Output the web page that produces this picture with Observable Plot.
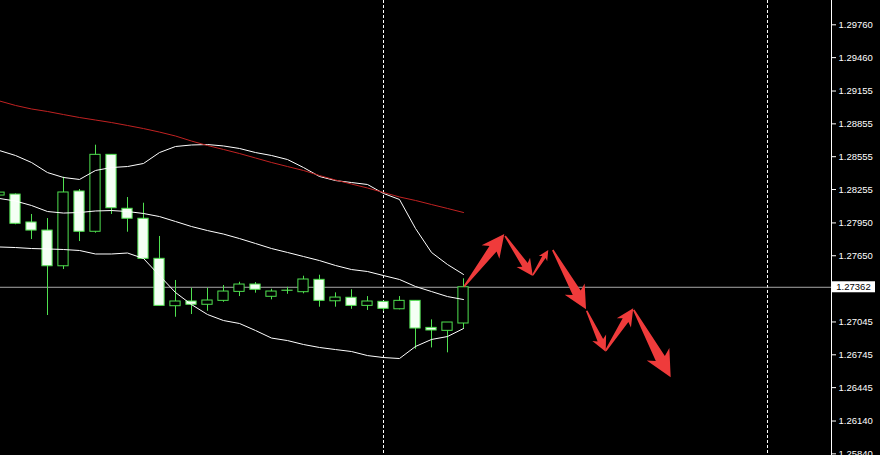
<!DOCTYPE html>
<html>
<head>
<meta charset="utf-8">
<script src="https://cdn.jsdelivr.net/npm/d3@7"></script>
<script src="https://cdn.jsdelivr.net/npm/@observablehq/plot@0.6"></script>
<style>
  html, body { margin: 0; padding: 0; background: #000; }
  #chart { width: 880px; height: 455px; overflow: hidden; }
</style>
</head>
<body>
<div id="chart"></div>
<script>
// ---- Data (bar index, prices) ----
const bars  = [0,1,2,3,4,5,6,7,8,9,10,11,12,13,14,15,16,17,18,19,20,21,22,23,24,25,26,27,28,29];
const open  = [1.28200,1.28209,1.27954,1.27880,1.27554,1.28237,1.27869,1.28572,1.28079,1.27988,1.27622,1.27189,1.27232,1.27202,1.27238,1.27320,1.27387,1.27275,1.27331,1.27317,1.27430,1.27234,1.27266,1.27192,1.27229,1.27161,1.27238,1.26991,1.26964,1.27031];
const high  = [1.28240,1.28215,1.28027,1.27990,1.28368,1.28255,1.28660,1.28572,1.28182,1.28130,1.27826,1.27424,1.27353,1.27353,1.27378,1.27408,1.27405,1.27344,1.27362,1.27463,1.27472,1.27311,1.27339,1.27277,1.27232,1.27277,1.27238,1.27064,1.27040,1.27439];
const low   = [1.28190,1.27933,1.27798,1.27104,1.27524,1.27780,1.27856,1.28027,1.27865,1.27622,1.27192,1.27088,1.27113,1.27143,1.27225,1.27277,1.27308,1.27247,1.27298,1.27302,1.27180,1.27180,1.27161,1.27150,1.27143,1.27156,1.26796,1.26808,1.26763,1.26985];
const close = [1.28227,1.27942,1.27880,1.27554,1.28228,1.27869,1.28572,1.28084,1.27988,1.27622,1.27192,1.27232,1.27202,1.27241,1.27323,1.27387,1.27339,1.27323,1.27330,1.27433,1.27238,1.27268,1.27192,1.27232,1.27165,1.27238,1.26985,1.26967,1.27040,1.27362];

const bbUpper  = [1.28611,1.28566,1.28502,1.28410,1.28365,1.28347,1.28429,1.28456,1.28465,1.28493,1.28593,1.28648,1.28662,1.28666,1.28653,1.28630,1.28593,1.28566,1.28529,1.28456,1.28374,1.28337,1.28319,1.28301,1.28219,1.28164,1.27899,1.27680,1.27570,1.27479];
const bbMiddle = [1.28173,1.28150,1.28109,1.28054,1.28040,1.28045,1.28059,1.28063,1.28054,1.28036,1.28008,1.27963,1.27917,1.27880,1.27848,1.27807,1.27762,1.27716,1.27680,1.27643,1.27606,1.27561,1.27524,1.27506,1.27469,1.27433,1.27369,1.27323,1.27277,1.27250];
const bbLower  = [1.27730,1.27725,1.27716,1.27712,1.27707,1.27698,1.27666,1.27666,1.27675,1.27625,1.27469,1.27314,1.27204,1.27113,1.27058,1.27031,1.26967,1.26898,1.26875,1.26839,1.26812,1.26793,1.26775,1.26738,1.26720,1.26711,1.26821,1.26885,1.26912,1.26985];
const maRed    = [1.29064,1.29023,1.28991,1.28968,1.28940,1.28913,1.28890,1.28867,1.28840,1.28812,1.28780,1.28744,1.28698,1.28657,1.28621,1.28584,1.28543,1.28502,1.28465,1.28429,1.28383,1.28342,1.28305,1.28269,1.28228,1.28187,1.28155,1.28118,1.28082,1.28045];

const currentPrice = 1.27362;
const separators = [24, 48];
const tickValues = [1.29760,1.29460,1.29155,1.28855,1.28555,1.28255,1.27950,1.27650,1.27045,1.26745,1.26445,1.26140,1.25840];
const tickLabels = ["1.29760","1.29460","1.29155","1.28855","1.28555","1.28255","1.27950","1.27650","1.27045","1.26745","1.26445","1.26140","1.25840"];

// forecast arrows: start (bar, price) -> end (bar, price)
const arrowX1 = [29.06, 31.63, 33.36, 34.61, 36.73, 37.92, 39.67];
const arrowY1 = [1.27362,1.27826,1.27469,1.27698,1.27143,1.26778,1.27150];
const arrowX2 = [31.58, 33.36, 34.33, 36.69, 37.92, 39.64, 41.98];
const arrowY2 = [1.27844,1.27460,1.27698,1.27156,1.26769,1.27165,1.26535];

// ---- Build ----
const candles = bars.map(k => ({k, o: open[k], h: high[k], l: low[k], c: close[k]}));
const bands = bars.map(k => ({k, up: bbUpper[k], mid: bbMiddle[k], lo: bbLower[k], ma: maRed[k]}));
const green = "#4fe04f";
const halfBody = 0.32;

const plot = Plot.plot({
  width: 880,
  height: 455,
  marginLeft: 0,
  marginRight: 49,
  marginTop: 0,
  marginBottom: 0,
  style: {background: "#000", color: "#fff", fontFamily: "'Liberation Sans', Arial, sans-serif", fontSize: "9.5px"},
  x: {domain: [0.0625, 52], axis: null},
  y: {
    domain: [1.25825, 1.29982],
    axis: "right",
    ticks: tickValues,
    tickFormat: d => tickLabels[tickValues.indexOf(d)] ?? d.toFixed(5),
    tickSize: 4,
    tickPadding: 3,
    line: true,
    label: null
  },
  marks: [
    Plot.ruleX(separators, {stroke: "#fff", strokeDasharray: "3,2", strokeWidth: 1}),
    Plot.ruleY([currentPrice], {stroke: "#a8a8a8", strokeWidth: 1}),
    Plot.ruleX(candles, {x: "k", y1: "l", y2: "h", stroke: green, strokeWidth: 1}),
    Plot.rect(candles, {
      x1: d => d.k - halfBody, x2: d => d.k + halfBody,
      y1: "o", y2: "c",
      fill: d => d.c >= d.o ? "#000" : "#f4fff4",
      stroke: green, strokeWidth: 1
    }),
    Plot.line(bands, {x: "k", y: "up", stroke: "#fff", strokeWidth: 1}),
    Plot.line(bands, {x: "k", y: "mid", stroke: "#fff", strokeWidth: 1}),
    Plot.line(bands, {x: "k", y: "lo", stroke: "#fff", strokeWidth: 1}),
    Plot.line(bands, {x: "k", y: "ma", stroke: "#c02222", strokeWidth: 1})
  ]
});

// ---- Arrows drawn through the plot's own scales ----
const sx = plot.scale("x"), sy = plot.scale("y");
const svg = d3.select(plot);
const gA = svg.append("g").attr("fill", "#ef3b3b");
arrowX1.forEach((_, i) => {
  const x1 = sx.apply(arrowX1[i]), y1 = sy.apply(arrowY1[i]);
  const x2 = sx.apply(arrowX2[i]), y2 = sy.apply(arrowY2[i]);
  const dx = x2 - x1, dy = y2 - y1, L = Math.hypot(dx, dy);
  const ux = dx / L, uy = dy / L, nx = -uy, ny = ux;
  const hl = Math.min(0.28 * L, 22);
  const hw = hl * 0.6, sw0 = 0.8, sw1 = hl * 0.24, barb = hl * 0.22;
  const bx = x2 - ux * hl, by = y2 - uy * hl;
  const pts = [
    [x1 + nx * sw0, y1 + ny * sw0],
    [bx + nx * sw1, by + ny * sw1],
    [bx - ux * barb + nx * hw, by - uy * barb + ny * hw],
    [x2, y2],
    [bx - ux * barb - nx * hw, by - uy * barb - ny * hw],
    [bx - nx * sw1, by - ny * sw1],
    [x1 - nx * sw0, y1 - ny * sw0]
  ];
  gA.append("polygon").attr("points", pts.map(p => p.join(",")).join(" "));
});

// ---- Current price label on the axis ----
const py = sy.apply(currentPrice);
const gL = svg.append("g");
gL.append("rect").attr("x", 832).attr("y", py - 5.5).attr("width", 43).attr("height", 11).attr("fill", "#fff");
gL.append("text").attr("x", 853.5).attr("y", py).attr("dy", "0.34em")
  .attr("text-anchor", "middle").attr("fill", "#000").text(currentPrice.toFixed(5));

document.getElementById("chart").appendChild(plot);
</script>
</body>
</html>
